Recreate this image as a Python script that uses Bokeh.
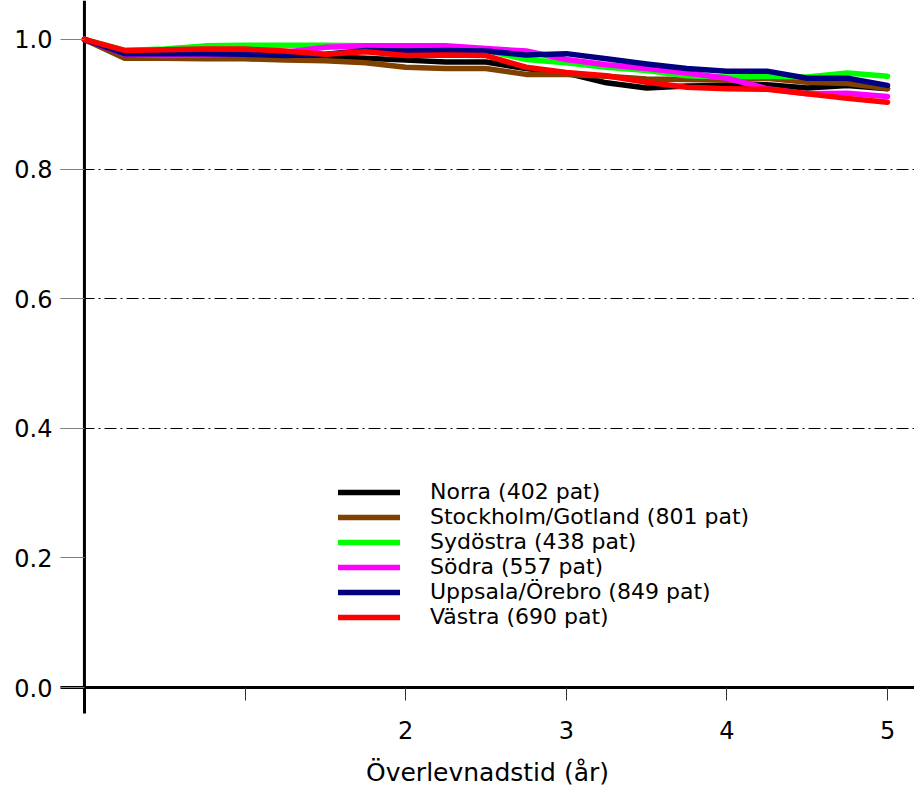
from bokeh.plotting import figure
from bokeh.models import FixedTicker, Span, Range1d, PrintfTickFormatter
from bokeh.embed import file_html
from bokeh.resources import INLINE

# Survival time (years)
years = [0.0, 0.25, 0.5, 0.75, 1.0, 1.25, 1.5, 1.75, 2.0, 2.25, 2.5,
         2.75, 3.0, 3.25, 3.5, 3.75, 4.0, 4.25, 4.5, 4.75, 5.0]

norra = [1.0, 0.975, 0.974, 0.974, 0.974, 0.973, 0.973, 0.971, 0.968, 0.965, 0.965,
         0.955, 0.948, 0.933, 0.925, 0.928, 0.929, 0.930, 0.925, 0.929, 0.924]
stockholm = [1.0, 0.971, 0.971, 0.970, 0.970, 0.968, 0.967, 0.964, 0.957, 0.955, 0.955,
             0.946, 0.946, 0.943, 0.939, 0.938, 0.937, 0.940, 0.934, 0.932, 0.924]
sydostra = [1.0, 0.983, 0.985, 0.990, 0.991, 0.991, 0.991, 0.990, 0.987, 0.985, 0.983,
            0.969, 0.964, 0.957, 0.952, 0.944, 0.942, 0.943, 0.942, 0.948, 0.943]
sodra = [1.0, 0.977, 0.975, 0.976, 0.978, 0.980, 0.988, 0.990, 0.990, 0.990, 0.986,
         0.982, 0.969, 0.961, 0.955, 0.948, 0.940, 0.924, 0.916, 0.917, 0.912]
uppsala = [1.0, 0.978, 0.978, 0.978, 0.977, 0.975, 0.977, 0.983, 0.982, 0.983, 0.982,
           0.976, 0.978, 0.970, 0.962, 0.955, 0.951, 0.951, 0.940, 0.940, 0.929]
vastra = [1.0, 0.983, 0.984, 0.985, 0.985, 0.982, 0.977, 0.981, 0.975, 0.976, 0.975,
          0.957, 0.949, 0.944, 0.934, 0.926, 0.924, 0.923, 0.916, 0.909, 0.903]

series_names = ["Norra (402 pat)", "Stockholm/Gotland (801 pat)", "Sydöstra (438 pat)",
                "Södra (557 pat)", "Uppsala/Örebro (849 pat)", "Västra (690 pat)"]
series_values = [norra, stockholm, sydostra, sodra, uppsala, vastra]
series_colors = ["#000000", "#804000", "#00ff00", "#ff00ff", "#000080", "#ff0000"]

x_ticks = [1, 2, 3, 4, 5]
y_ticks = [0.0, 0.2, 0.4, 0.6, 0.8, 1.0]
grid_ticks = [0.4, 0.6, 0.8]

FONT = "DejaVu Sans"

p = figure(width=914, height=791,
           x_range=Range1d(-0.149, 5.168), y_range=Range1d(0, 1.060),
           output_backend="svg", toolbar_location=None,
           min_border_left=60, min_border_right=0, min_border_top=0,
           min_border_bottom=104)
p.outline_line_color = None
p.background_fill_color = "white"
p.border_fill_color = "white"

p.xgrid.visible = False
p.ygrid.ticker = FixedTicker(ticks=grid_ticks)
p.ygrid.grid_line_color = "black"
p.ygrid.grid_line_width = 1
p.ygrid.grid_line_dash = "12 4 2 4"

# vertical axis line at x = 0
p.add_layout(Span(location=0, dimension="height", line_color="black",
                  line_width=3, level="underlay"))

for name, vals, col in zip(series_names, series_values, series_colors):
    p.line(years, vals, line_color=col, line_width=5.5, line_cap="round",
           line_join="round", legend_label=name)

# x axis
xa = p.xaxis[0]
xa.ticker = FixedTicker(ticks=x_ticks, minor_ticks=[0])
xa.major_label_overrides = {1: " "}
xa.axis_line_color = "black"
xa.axis_line_width = 3
xa.major_tick_in = 0
xa.major_tick_out = 13
xa.major_tick_line_color = "#333333"
xa.major_tick_line_width = 1
xa.minor_tick_in = 0
xa.minor_tick_out = 26
xa.minor_tick_line_width = 3
xa.minor_tick_line_color = "black"
xa.major_label_text_font = FONT
xa.major_label_text_font_size = "24px"
xa.major_label_text_color = "black"
xa.major_label_standoff = 3
xa.axis_label = "Överlevnadstid (år)"
xa.axis_label_text_font = FONT
xa.axis_label_text_font_size = "25px"
xa.axis_label_text_font_style = "normal"
xa.axis_label_text_color = "black"
xa.axis_label_standoff = 10

# y axis
ya = p.yaxis[0]
ya.ticker = FixedTicker(ticks=y_ticks)
ya.formatter = PrintfTickFormatter(format="%.1f")
ya.axis_line_color = None
ya.major_tick_in = 24
ya.major_tick_out = 0
ya.major_tick_line_color = "#808080"
ya.major_tick_line_width = 1
ya.minor_tick_line_color = None
ya.major_label_text_font = FONT
ya.major_label_text_font_size = "24px"
ya.major_label_text_color = "black"
ya.major_label_standoff = 8

lg = p.legend[0]
lg.location = (278, 58)
lg.background_fill_alpha = 0
lg.border_line_color = None
lg.padding = 0
lg.margin = 0
lg.spacing = -3
lg.glyph_width = 62
lg.glyph_height = 22
lg.label_height = 22
lg.label_standoff = 30
lg.label_text_font = FONT
lg.label_text_font_size = "22px"
lg.label_text_color = "black"

open("out.html", "w").write(file_html(p, INLINE))
